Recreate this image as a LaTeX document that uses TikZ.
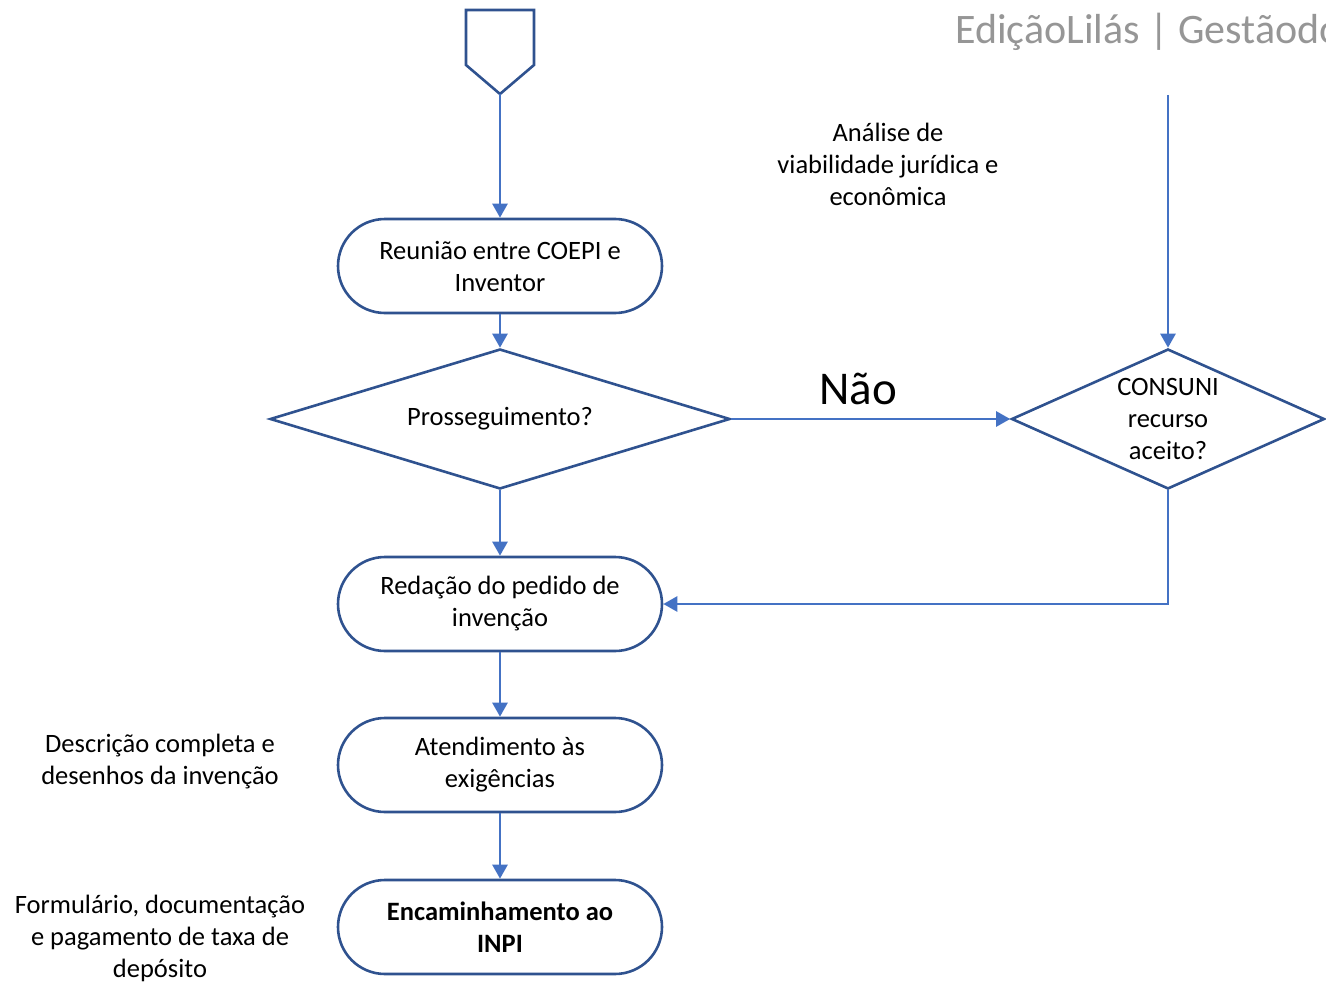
\documentclass[tikz,border=0pt]{standalone}
\usepackage{fontspec}
\setmainfont{Carlito}
\usetikzlibrary{arrows.meta,shapes.geometric}
\definecolor{shapeblue}{HTML}{2F528F}
\definecolor{linkblue}{HTML}{4472C4}
\definecolor{headgray}{HTML}{969696}
\begin{document}
\begin{tikzpicture}[x=1pt,y=-1pt,
  every node/.style={font=\fontsize{26.5}{32}\selectfont, align=center, inner sep=0pt},
  stepbox/.style={draw=shapeblue, line width=2.6pt, fill=white, rectangle,
    rounded corners=47pt, minimum width=324pt, minimum height=94pt},
  decision/.style={draw=shapeblue, line width=2.6pt, fill=white, diamond},
  link/.style={draw=linkblue, line width=2.6pt, -{Triangle[length=14pt,width=15pt]}}]
\useasboundingbox (0,0) rectangle (1326,982);
\begin{scope}
\clip (0,0) rectangle (1326,982);
\node[anchor=base west, text=headgray, font=\fontsize{42}{50}\selectfont] (head) at (955,44) {EdiçãoLilás | Gestãodo};
\end{scope}

% off-page connector
\draw[draw=shapeblue, line width=2.6pt, line join=miter] (466,10) -- (534,10) -- (534,65) -- (500,94) -- (466,65) -- cycle;
\coordinate (start) at (500,94);
\coordinate (appeal) at (1168,95);

% process boxes
\node[stepbox] (meet) at (500,266) {Reunião entre COEPI e\\Inventor};
\node[decision, minimum width=460pt, minimum height=140pt, aspect=3.29] (go) at (500,419) {Prosseguimento?};
\node[stepbox] (draft) at (500,604) {Redação do pedido de\\invenção};
\node[stepbox] (meetreq) at (500,765) {Atendimento às\\exigências};
\node[stepbox] (send) at (500,927) {\textbf{Encaminhamento ao}\\\textbf{INPI}};
\node[decision, minimum width=313pt, minimum height=140pt, aspect=2.24] (consuni) at (1168,419) {CONSUNI\\recurso\\aceito?};

% side notes
\node (analysis) at (888,164) {Análise de\\viabilidade jurídica e\\econômica};
\node (desc) at (160,762) {Descrição completa e\\desenhos da invenção};
\node (form) at (160,938) {Formulário, documentação\\e pagamento de taxa de\\depósito};
\node[font=\fontsize{47}{56}\selectfont] (no) at (858,389) {Não};

% connectors
\draw[link] (start) -- (meet.north);
\draw[link] (meet.south) -- (go.north);
\draw[link] (go.south) -- (draft.north);
\draw[link] (draft.south) -- (meetreq.north);
\draw[link] (meetreq.south) -- (send.north);
\draw[link] (go.east) -- (consuni.west);
\draw[link] (appeal) -- (consuni.north);
\draw[link] (consuni.south) |- (draft.east);
\end{tikzpicture}
\end{document}
